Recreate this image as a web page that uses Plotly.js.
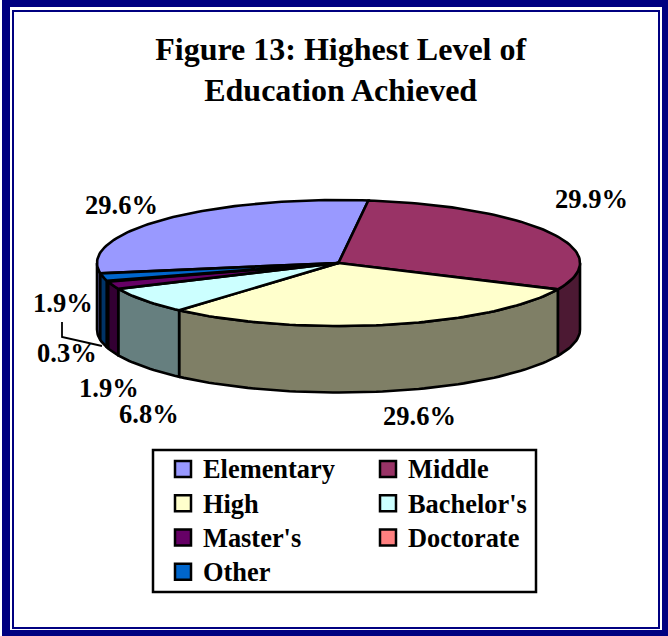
<!DOCTYPE html>
<html><head><meta charset="utf-8">
<script src="https://cdn.plot.ly/plotly-3.0.1.min.js"></script>
<style>html,body{margin:0;padding:0;background:#fff}#c{width:668px;height:636px}</style>
</head><body><div id="c"></div>
<script>
const categories = ["Elementary","Middle","High","Bachelor's","Master's","Doctorate","Other"];
const percents = [29.6,29.9,29.6,6.8,1.9,0.3,1.9];
const topColors = ["#9999FF","#993366","#FFFFCC","#CCFFFF","#660066","#FF8080","#0066CC"];
const sideColors = ["#4C4C7F","#4C1933","#7F7F66","#667F7F","#330033","#7F4040","#003366"];
// label anchors (page units) in category order
const labelX = [121,591,419,149,109,67,63];
const labelY = [205,199,416,414,388,353,303];
const leaderX = [62,62,102];
const leaderY = [322,337,346];

const FONT = '"Liberation Serif","Times New Roman",serif';
const NAVY = '#000080';
const cx=338.5, cy=263, rx=241.5, ry=63, depth=66.5, startDeg=-99.46;
const ptx = d => cx + rx*Math.sin(d*Math.PI/180);
const pty = d => cy - ry*Math.cos(d*Math.PI/180);

function arc(a,b){ const xs=[],ys=[]; const n=Math.max(2,Math.ceil(Math.abs(b-a)/1.5));
  for(let i=0;i<=n;i++){const d=a+(b-a)*i/n; xs.push(ptx(d)); ys.push(pty(d));}
  return [xs,ys]; }

const total = percents.reduce((s,v)=>s+v,0);
let ang = startDeg;
const sides=[], tops=[], swatches=[];
const line = {color:'#000',width:2.6};
categories.forEach((name,i)=>{
  const a=ang, b=ang+percents[i]/total*360; ang=b;
  const [tx,ty]=arc(a,b);
  tops.push({type:'scatter',mode:'lines',x:[cx,...tx,cx],y:[cy,...ty,cy],fill:'toself',
    fillcolor:topColors[i],line,showlegend:false,hoverinfo:'skip'});
  // visible wall: the front half of the rim
  [[-270,-90],[90,270]].forEach(([lo,hi])=>{
    const s=Math.max(a,lo), e=Math.min(b,hi);
    if(e<=s) return;
    const [wx,wy]=arc(s,e);
    sides.push({type:'scatter',mode:'lines',
      x:[...wx,...wx.slice().reverse(),wx[0]],
      y:[...wy,...wy.slice().reverse().map(v=>v+depth),wy[0]],
      fill:'toself',fillcolor:sideColors[i],line,showlegend:false,hoverinfo:'skip'});
  });
  // two-column key: odd entries go to the second legend
  swatches.push({type:'scatter',mode:'markers',legend:i%2?'legend2':'legend',
    name:'<span style="font-size:26.4px">'+name+'</span>',x:[null],y:[null],hoverinfo:'skip',
    marker:{symbol:'square',size:16,color:topColors[i],line:{color:'#000',width:2.5}}});
});

const leader={type:'scatter',mode:'lines',x:leaderX,y:leaderY,line:{color:'#000',width:1.8},showlegend:false,hoverinfo:'skip'};

const annotations = categories.map((c,i)=>({x:labelX[i],y:labelY[i],xref:'x',yref:'y',showarrow:false,
  text:'<b>'+percents[i].toFixed(1)+'%</b>',font:{family:FONT,size:26.5,color:'#000'},xanchor:'center',yanchor:'middle'}));

const rect=(x0,y0,x1,y1,o)=>Object.assign({type:'rect',xref:'x',yref:'y',x0,y0,x1,y1,layer:'below'},o);
const band={fillcolor:NAVY,line:{width:0}};
const shapes=[
  rect(2,0,668,7,band),rect(2,630,668,636,band),rect(2,0,10,636,band),rect(662,0,668,636,band),
  rect(13,11,659,628,{line:{color:NAVY,width:2},fillcolor:'rgba(0,0,0,0)'}),
  rect(153,450,536,592,{line:{color:'#000',width:2.5},fillcolor:'#fff'})
];
const legendBase=(px)=>({orientation:'v',x:px/668,xanchor:'left',y:1-447/636,yanchor:'top',bgcolor:'rgba(0,0,0,0)',borderwidth:0,
    traceorder:'normal',itemclick:false,itemdoubleclick:false,
    font:{family:FONT,size:24,color:'#000',weight:'bold'}});

Plotly.newPlot('c',[...sides,...tops,leader,...swatches],{
  width:668,height:636,autosize:false,margin:{l:0,r:0,t:0,b:0,pad:0,autoexpand:false},
  paper_bgcolor:'#fff',plot_bgcolor:'#fff',
  title:{text:'<b>Figure 13: Highest Level of<br>Education Achieved</b>',x:0.51,xanchor:'center',xref:'paper',
    y:0.906,yref:'paper',yanchor:'top',font:{family:FONT,size:32,color:'#000'}},
  xaxis:{range:[0,668],visible:false,fixedrange:true},
  yaxis:{range:[636,0],visible:false,fixedrange:true},
  showlegend:true,
  legend:legendBase(163),
  legend2:legendBase(368),
  annotations,shapes
},{staticPlot:true,displayModeBar:false});
</script></body></html>
